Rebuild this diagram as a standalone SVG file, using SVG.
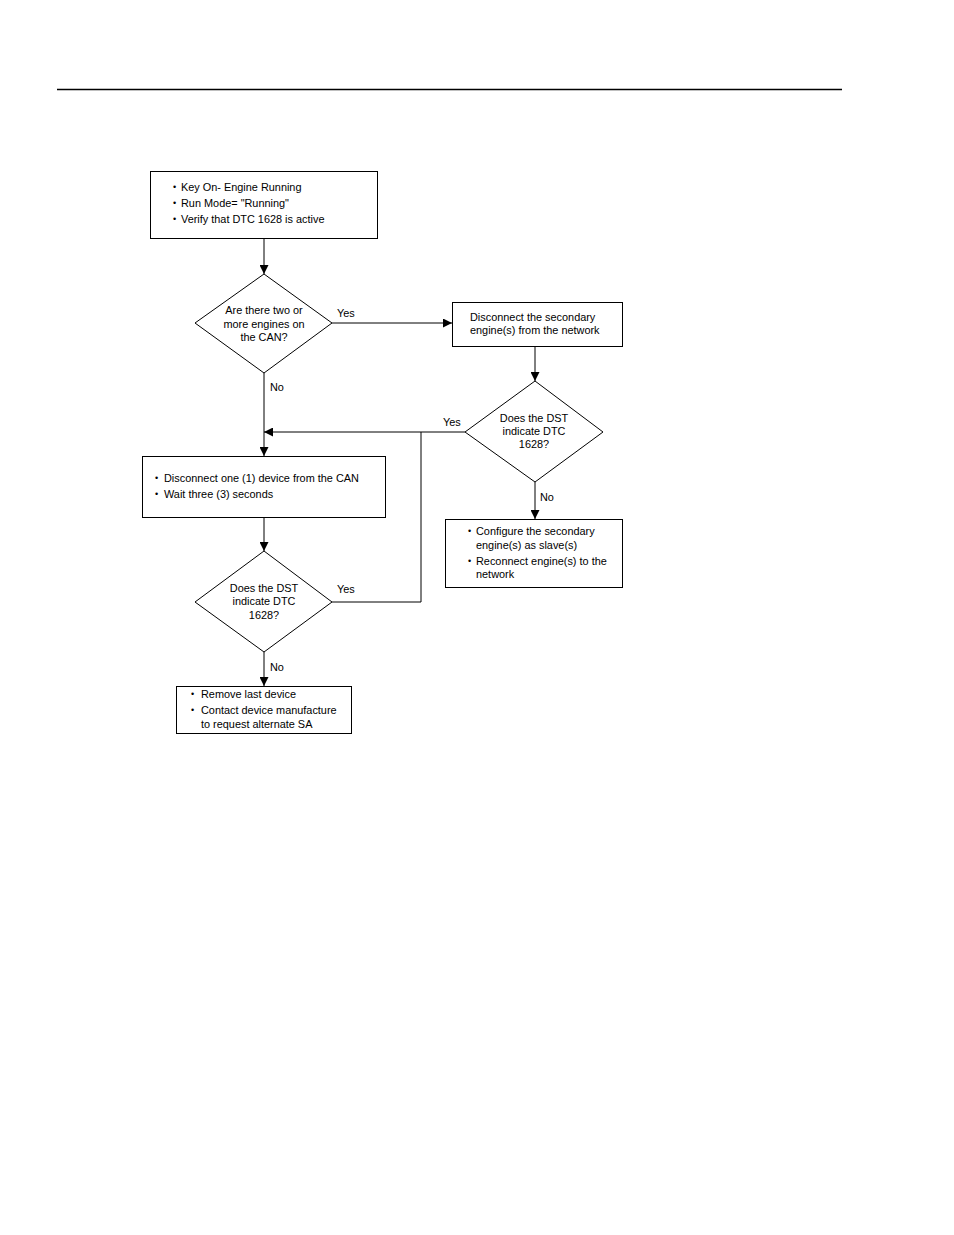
<svg xmlns="http://www.w3.org/2000/svg" width="954" height="1235" viewBox="0 0 954 1235">
<style>
  .box { fill: #fff; stroke: #000; stroke-width: 1; }
  .t { font-family: "Liberation Sans", Arial, sans-serif; font-size: 10.9px; fill: #000; }
  .b { font-family: "Liberation Sans", Arial, sans-serif; font-size: 9px; fill: #000; }
  .c { text-anchor: middle; }
  .ln { fill: none; stroke: #000; stroke-width: 1; }
</style>
<defs>
  <marker id="ah" viewBox="0 0 10 10" refX="10" refY="5" markerWidth="9" markerHeight="9" markerUnits="userSpaceOnUse" orient="auto">
    <path d="M0,0 L10,5 L0,10 z" fill="#000"/>
  </marker>
</defs>
<rect width="954" height="1235" fill="#fff"/>
<line x1="57" y1="89.5" x2="842" y2="89.5" stroke="#000" stroke-width="1.3"/>

<g id="connectors">
  <line class="ln" x1="264" y1="238" x2="264" y2="274" marker-end="url(#ah)"/>
  <line class="ln" x1="332" y1="323" x2="452" y2="323" marker-end="url(#ah)"/>
  <line class="ln" x1="535" y1="346" x2="535" y2="381" marker-end="url(#ah)"/>
  <line class="ln" x1="264" y1="373" x2="264" y2="456" marker-end="url(#ah)"/>
  <line class="ln" x1="465" y1="432" x2="264" y2="432" marker-end="url(#ah)"/>
  <line class="ln" x1="264" y1="517" x2="264" y2="551" marker-end="url(#ah)"/>
  <polyline class="ln" points="332,602 421,602 421,432"/>
  <line class="ln" x1="264" y1="652" x2="264" y2="686" marker-end="url(#ah)"/>
  <line class="ln" x1="535" y1="482" x2="535" y2="519" marker-end="url(#ah)"/>
  <text class="t" x="337" y="317">Yes</text>
  <text class="t" x="270" y="391">No</text>
  <text class="t" x="443" y="426">Yes</text>
  <text class="t" x="540" y="501">No</text>
  <text class="t" x="337" y="593">Yes</text>
  <text class="t" x="270" y="671">No</text>
</g>

<g id="start">
  <rect class="box" x="150.5" y="171.5" width="227" height="67"/>
  <text class="b" x="173" y="190">•</text><text class="t" x="181" y="191">Key On- Engine Running</text>
  <text class="b" x="173" y="206">•</text><text class="t" x="181" y="207">Run Mode= "Running"</text>
  <text class="b" x="173" y="222">•</text><text class="t" x="181" y="223">Verify that DTC 1628 is active</text>
</g>

<g id="q1">
  <polygon class="box" points="264,274 332,323 264,373 195,323"/>
  <text class="t c" x="264" y="314">Are there two or</text>
  <text class="t c" x="264" y="328">more engines on</text>
  <text class="t c" x="264" y="341">the CAN?</text>
</g>

<g id="disconnect-secondary">
  <rect class="box" x="452.5" y="302.5" width="170" height="44"/>
  <text class="t" x="470" y="321">Disconnect the secondary</text>
  <text class="t" x="470" y="334">engine(s) from the network</text>
</g>

<g id="q2">
  <polygon class="box" points="535,381 603,432 535,482 465,432"/>
  <text class="t c" x="534" y="422">Does the DST</text>
  <text class="t c" x="534" y="435">indicate DTC</text>
  <text class="t c" x="534" y="448">1628?</text>
</g>

<g id="disconnect-device">
  <rect class="box" x="142.5" y="456.5" width="243" height="61"/>
  <text class="b" x="155" y="481">•</text><text class="t" x="164" y="482">Disconnect one (1) device from the CAN</text>
  <text class="b" x="155" y="497">•</text><text class="t" x="164" y="498">Wait three (3) seconds</text>
</g>

<g id="q3">
  <polygon class="box" points="264,551 332,602 264,652 195,602"/>
  <text class="t c" x="264" y="592">Does the DST</text>
  <text class="t c" x="264" y="605">indicate DTC</text>
  <text class="t c" x="264" y="619">1628?</text>
</g>

<g id="remove-device">
  <rect class="box" x="176.5" y="686.5" width="175" height="47"/>
  <text class="b" x="191" y="697">•</text><text class="t" x="201" y="698">Remove last device</text>
  <text class="b" x="191" y="713">•</text><text class="t" x="201" y="714">Contact device manufacture</text>
  <text class="t" x="201" y="728">to request alternate SA</text>
</g>

<g id="configure-slave">
  <rect class="box" x="445.5" y="519.5" width="177" height="68"/>
  <text class="b" x="468" y="534">•</text><text class="t" x="476" y="535">Configure the secondary</text>
  <text class="t" x="476" y="549">engine(s) as slave(s)</text>
  <text class="b" x="468" y="564">•</text><text class="t" x="476" y="565">Reconnect engine(s) to the</text>
  <text class="t" x="476" y="578">network</text>
</g>
</svg>
